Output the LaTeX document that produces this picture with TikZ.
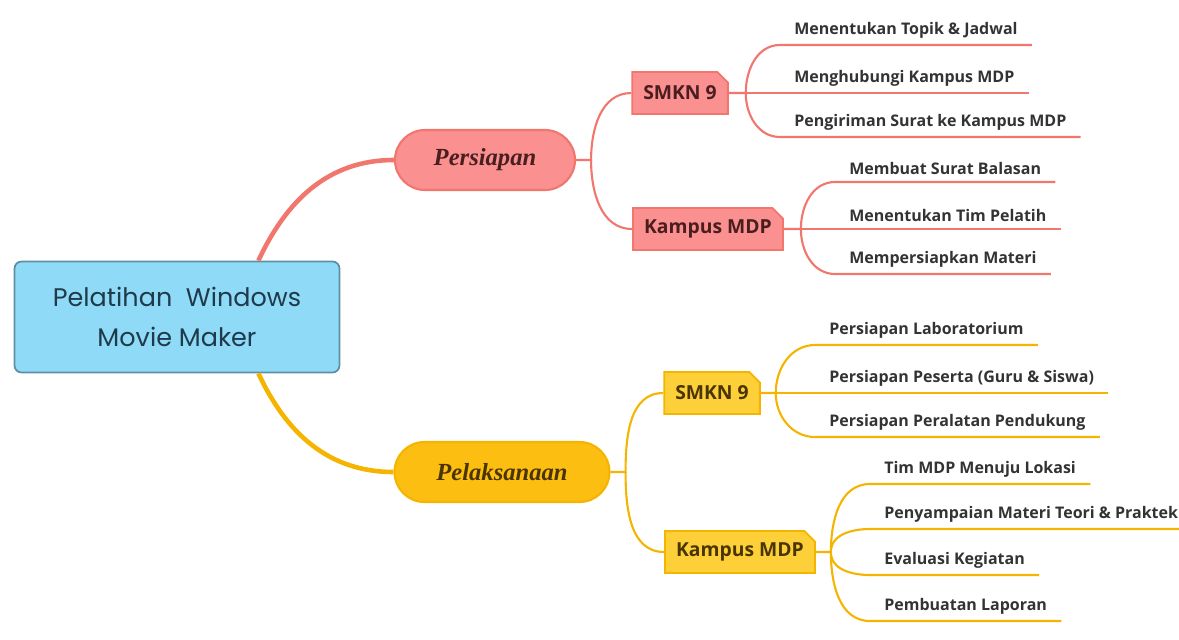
\documentclass[tikz,border=0pt]{standalone}
\usepackage{fontspec}
\setmainfont{Open Sans}
\newfontfamily\titlefont{Poppins}
\newfontfamily\pillfont{Liberation Serif}
\usepackage{tikz}
\usetikzlibrary{shapes.misc}
\definecolor{rootfill}{HTML}{8FDBF7}
\definecolor{rootline}{HTML}{5E8FA6}
\definecolor{rootink}{HTML}{1F3A4A}
\definecolor{redline}{HTML}{F0766E}
\definecolor{redfill}{HTML}{FA9090}
\definecolor{redink}{HTML}{4A1E1E}
\definecolor{goldline}{HTML}{F5B400}
\definecolor{goldfill}{HTML}{FDBE12}
\definecolor{goldbox}{HTML}{FDD03A}
\definecolor{goldink}{HTML}{4A3500}
\definecolor{leafink}{HTML}{333333}
\tikzset{
	rootbox/.style={draw=rootline, fill=rootfill, line width=1pt, rounded corners=4pt, minimum width=6.5cm, minimum height=2.22cm, align=center, text=rootink, font=\titlefont\fontsize{14.5}{23}\selectfont},
	pill/.style={rounded corners=0.6cm, line width=1.2pt, minimum height=1.2cm, font=\pillfont\bfseries\itshape\fontsize{14}{16}\selectfont},
	tagbox/.style={chamfered rectangle, chamfered rectangle corners=north east, chamfered rectangle xsep=3pt, chamfered rectangle ysep=3pt, line width=1pt, minimum height=0.84cm, font=\bfseries\fontsize{11}{13}\selectfont},
	leaf/.style={anchor=south west, inner xsep=0.28cm, inner ysep=0.13cm, text=leafink, font=\bfseries\fontsize{9.1}{11}\selectfont},
	redwire/.style={draw=redline, line width=1.2pt},
	goldwire/.style={draw=goldline, line width=1.2pt},
}

\begin{document}
\begin{tikzpicture}
	\useasboundingbox (0,0) rectangle (23.58,-12.78);
	\node[rootbox] (root) at (3.54,-6.34) {Pelatihan \ Windows\\Movie Maker};
	\node[pill, draw=redline, fill=redfill, text=redink, minimum width=3.6cm] (pers) at (9.7,-3.2) {Persiapan};
	\node[pill, draw=goldline, fill=goldfill, text=goldink, minimum width=4.3cm] (pela) at (10.04,-9.44) {Pelaksanaan};
	\node[tagbox, draw=redline, fill=redfill, text=redink, minimum width=1.9cm] (smkA) at (13.6,-1.86) {SMKN 9};
	\node[tagbox, draw=redline, fill=redfill, text=redink, minimum width=3cm] (kmpA) at (14.16,-4.58) {Kampus MDP};
	\node[tagbox, draw=goldline, fill=goldbox, text=goldink, minimum width=1.9cm] (smkB) at (14.24,-7.86) {SMKN 9};
	\node[tagbox, draw=goldline, fill=goldbox, text=goldink, minimum width=3cm] (kmpB) at (14.8,-11.04) {Kampus MDP};
	\coordinate (rootTop) at ([xshift=-1.64cm]root.north east);
	\coordinate (rootBot) at ([xshift=-1.64cm]root.south east);
	\coordinate (persFork) at ([xshift=0.3cm]pers.east);
	\coordinate (pelaFork) at ([xshift=0.3cm]pela.east);
	\coordinate (smkAFork) at ([xshift=0.34cm]smkA.east);
	\coordinate (kmpAFork) at ([xshift=0.34cm]kmpA.east);
	\coordinate (smkBFork) at ([xshift=0.3cm]smkB.east);
	\coordinate (kmpBFork) at ([xshift=0.3cm]kmpB.east);
	\node[leaf] (a1) at (15.6,-0.9) {Menentukan Topik \& Jadwal};
	\node[leaf] (a2) at (15.6,-1.86) {Menghubungi Kampus MDP};
	\node[leaf] (a3) at (15.6,-2.74) {Pengiriman Surat ke Kampus MDP};
	\node[leaf] (b1) at (16.7,-3.64) {Membuat Surat Balasan};
	\node[leaf] (b2) at (16.7,-4.58) {Menentukan Tim Pelatih};
	\node[leaf] (b3) at (16.7,-5.48) {Mempersiapkan Materi};
	\node[leaf] (c1) at (16.3,-6.9) {Persiapan Laboratorium};
	\node[leaf] (c2) at (16.3,-7.86) {Persiapan Peserta (Guru \& Siswa)};
	\node[leaf] (c3) at (16.3,-8.74) {Persiapan Peralatan Pendukung};
	\node[leaf] (d1) at (17.4,-9.68) {Tim MDP Menuju Lokasi};
	\node[leaf] (d2) at (17.4,-10.58) {Penyampaian Materi Teori \& Praktek};
	\node[leaf] (d3) at (17.4,-11.5) {Evaluasi Kegiatan};
	\node[leaf] (d4) at (17.4,-12.42) {Pembuatan Laporan};
	\draw[redwire, line width=2.6pt] (rootTop) to[out=65,in=180] (pers.west);
	\draw[goldwire, line width=2.6pt] (rootBot) to[out=-65,in=180] (pela.west);
	\draw[redwire] (pers.east) -- (persFork) to[out=90,in=180] (smkA.west);
	\draw[redwire] (persFork) to[out=-90,in=180] (kmpA.west);
	\draw[goldwire] (pela.east) -- (pelaFork) to[out=90,in=180] (smkB.west);
	\draw[goldwire] (pelaFork) to[out=-90,in=180] (kmpB.west);
	\draw[redwire] (smkA.east) -- (smkAFork) to[out=90,in=180] (a1.south west) -- (a1.south east);
	\draw[redwire] (smkA.east) -- (a2.south west) -- (a2.south east);
	\draw[redwire] (smkAFork) to[out=-90,in=180] (a3.south west) -- (a3.south east);
	\draw[redwire] (kmpA.east) -- (kmpAFork) to[out=90,in=180] (b1.south west) -- (b1.south east);
	\draw[redwire] (kmpA.east) -- (b2.south west) -- (b2.south east);
	\draw[redwire] (kmpAFork) to[out=-90,in=180] (b3.south west) -- (b3.south east);
	\draw[goldwire] (smkB.east) -- (smkBFork) to[out=90,in=180] (c1.south west) -- (c1.south east);
	\draw[goldwire] (smkB.east) -- (c2.south west) -- (c2.south east);
	\draw[goldwire] (smkBFork) to[out=-90,in=180] (c3.south west) -- (c3.south east);
	\draw[goldwire] (kmpB.east) -- (kmpBFork) to[out=90,in=180] (d1.south west) -- (d1.south east);
	\draw[goldwire] (kmpBFork) to[out=90,in=180] (d2.south west) -- (d2.south east);
	\draw[goldwire] (kmpBFork) to[out=-90,in=180] (d3.south west) -- (d3.south east);
	\draw[goldwire] (kmpBFork) to[out=-90,in=180] (d4.south west) -- (d4.south east);
\end{tikzpicture}
\end{document}
